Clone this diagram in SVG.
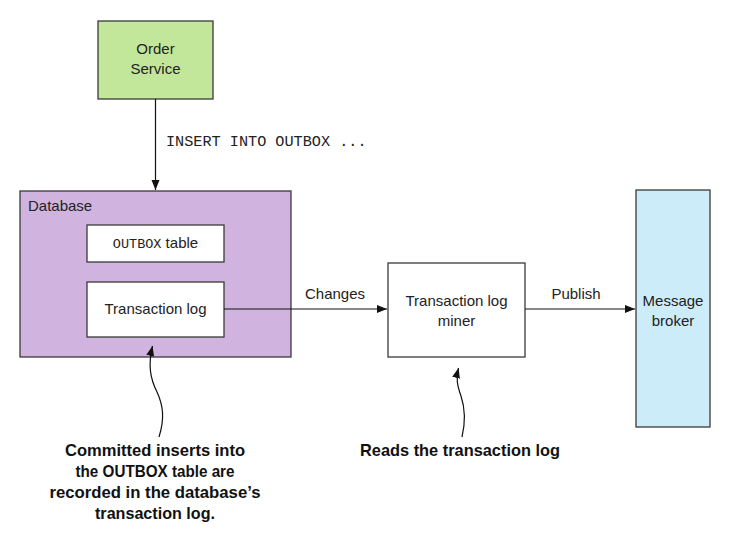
<svg xmlns="http://www.w3.org/2000/svg" width="730" height="535" viewBox="0 0 730 535">
<defs>
<style>
.box{stroke:#3a3a3a;stroke-width:1.3}
.lbl{font-family:"Liberation Sans",Arial,sans-serif;font-size:15px;fill:#222;text-anchor:middle}
.mono{font-family:"Liberation Mono","Courier New",monospace;font-size:15.2px;fill:#222}
.note{font-family:"Liberation Sans",Arial,sans-serif;font-size:17px;font-weight:bold;fill:#111;text-anchor:middle}
.conn{stroke:#111;stroke-width:1.2;fill:none}
</style>
<marker id="ah" viewBox="0 0 10 10" refX="10" refY="5" markerWidth="10" markerHeight="10" markerUnits="userSpaceOnUse" orient="auto">
<path d="M0,1 L10,5 L0,9 Z" fill="#111"/>
</marker>
</defs>
<rect width="730" height="535" fill="#fff"/>

<g id="order-service">
<rect class="box" x="98" y="21" width="115" height="78" fill="#c3e79a"/>
<text class="lbl" x="155.5" y="54">Order</text>
<text class="lbl" x="155.5" y="74">Service</text>
</g>

<g id="database">
<rect class="box" x="20" y="191" width="271" height="166" fill="#d0b3de"/>
<text class="lbl" x="28" y="211" style="text-anchor:start">Database</text>
</g>

<g id="outbox-table">
<rect class="box" x="87" y="225" width="137" height="37" fill="#fff"/>
<text class="lbl" x="155.5" y="248"><tspan style="font-family:'Liberation Mono','Courier New',monospace;font-size:13.5px">OUTBOX</tspan> table</text>
</g>

<g id="transaction-log">
<rect class="box" x="87" y="282" width="137" height="55" fill="#fff"/>
<text class="lbl" x="155.5" y="314">Transaction log</text>
</g>

<g id="log-miner">
<rect class="box" x="388" y="263" width="137" height="94" fill="#fff"/>
<text class="lbl" x="456.5" y="306">Transaction log</text>
<text class="lbl" x="456.5" y="326">miner</text>
</g>

<g id="message-broker">
<rect class="box" x="636" y="190" width="74" height="237" fill="#ccecf9"/>
<text class="lbl" x="673" y="306">Message</text>
<text class="lbl" x="673" y="326">broker</text>
</g>

<g id="connectors">
<line class="conn" x1="155.5" y1="99" x2="155.5" y2="190" marker-end="url(#ah)"/>
<line class="conn" x1="224" y1="309" x2="387" y2="309" marker-end="url(#ah)"/>
<line class="conn" x1="525" y1="309" x2="635" y2="309" marker-end="url(#ah)"/>
<path class="conn" d="M159,437 C165,418 163,405 157,392 C150,378 148,365 152.5,346" marker-end="url(#ah)"/>
<path class="conn" d="M462,437 C466,420 465,408 461,396 C457,385 456,378 458.5,368" marker-end="url(#ah)"/>
</g>

<g id="labels">
<text class="mono" x="166" y="146">INSERT INTO OUTBOX ...</text>
<text class="lbl" x="335" y="299">Changes</text>
<text class="lbl" x="576" y="299">Publish</text>
<text class="note" x="155" y="456" textLength="180" lengthAdjust="spacingAndGlyphs">Committed inserts into</text>
<text class="note" x="155" y="477" textLength="159" lengthAdjust="spacingAndGlyphs">the OUTBOX table are</text>
<text class="note" x="155" y="498" textLength="211" lengthAdjust="spacingAndGlyphs">recorded in the database’s</text>
<text class="note" x="155" y="519" textLength="120" lengthAdjust="spacingAndGlyphs">transaction log.</text>
<text class="note" x="460" y="456" textLength="200" lengthAdjust="spacingAndGlyphs">Reads the transaction log</text>
</g>
</svg>
